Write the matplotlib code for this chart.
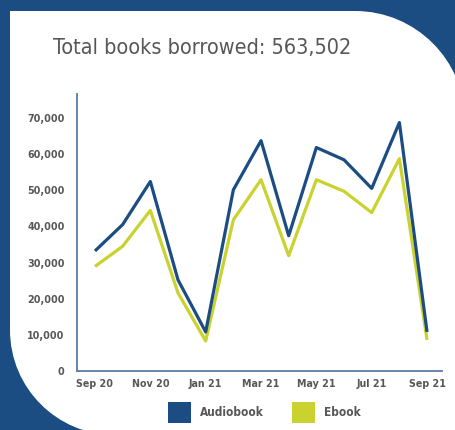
import matplotlib
matplotlib.use("Agg")
import matplotlib.pyplot as plt
from matplotlib.path import Path
from matplotlib.patches import PathPatch, Rectangle
from matplotlib.ticker import FuncFormatter

months = ["Sep 20", "Oct 20", "Nov 20", "Dec 20", "Jan 21", "Feb 21", "Mar 21",
          "Apr 21", "May 21", "Jun 21", "Jul 21", "Aug 21", "Sep 21"]
audiobook = [33200, 40500, 52400, 25200, 10800, 50100, 63700,
             37400, 61800, 58400, 50500, 68700, 10800]
ebook = [28900, 34500, 44400, 21600, 8300, 41800, 52900,
         31900, 52900, 49700, 43800, 58700, 8600]
total_label = "Total books borrowed: 563,502"

BLUE = "#1b4d82"
GREEN = "#c9d22e"
GREY = "#575757"
plt.rcParams["font.family"] = ["DejaVu Sans"]
plt.rcParams["font.stretch"] = "condensed"

W, H = 455, 430
fig = plt.figure(figsize=(W / 100, H / 100), dpi=100)
fig.patch.set_facecolor(BLUE)

# white panel with two big rounded corners (pixel coords, y down)
def fp(x, y):
    return (x / W, 1 - y / H)

k = 0.5523
r1 = 110
r2 = 105
verts = [fp(10, 11), fp(355, 11),
         fp(355 + k * r1, 11), fp(355 + r1, 121 - k * r1), fp(355 + r1, 121),
         fp(470, 450), fp(115, 450), fp(115, 435),
         fp(115 - k * r2, 435), fp(10, 330 + k * r2), fp(10, 330),
         fp(10, 11)]
codes = [Path.MOVETO, Path.LINETO,
         Path.CURVE4, Path.CURVE4, Path.CURVE4,
         Path.LINETO, Path.LINETO, Path.LINETO,
         Path.CURVE4, Path.CURVE4, Path.CURVE4,
         Path.CLOSEPOLY]
fig.patches.append(PathPatch(Path(verts, codes), transform=fig.transFigure,
                             facecolor="white", edgecolor="none", zorder=0))

fig.text(53 / W, 1 - 48 / H, total_label, fontsize=15.5, color=GREY,
         va="center", ha="left", zorder=5)

ax = fig.add_axes([77 / W, 1 - 371 / H, (442 - 77) / W, (371 - 94) / H])
ax.set_zorder(3)
ax.set_facecolor("none")
x = list(range(len(months)))
ax.plot(x, audiobook, color=BLUE, lw=2.3, solid_joinstyle="round",
        solid_capstyle="butt", label="Audiobook", zorder=3)
ax.plot(x, ebook, color=GREEN, lw=2.3, solid_joinstyle="round",
        solid_capstyle="butt", label="Ebook", zorder=2)

ax.set_xlim(-0.65, 12.54)
ax.set_ylim(0, 76600)
ax.set_yticks(range(0, 70001, 10000))
ax.yaxis.set_major_formatter(FuncFormatter(lambda v, p: f"{int(v):,}"))
ax.set_xticks(x[::2])
ax.set_xticklabels(months[::2])
ax.tick_params(length=0, labelsize=7.7, labelcolor=GREY)
ax.tick_params(axis="y", pad=9)
ax.tick_params(axis="x", pad=6)
for lab in ax.get_xticklabels() + ax.get_yticklabels():
    lab.set_fontweight("bold")
for s in ["top", "right"]:
    ax.spines[s].set_visible(False)
for s in ["left", "bottom"]:
    ax.spines[s].set_color("#5b7ca6")
    ax.spines[s].set_linewidth(1.3)

# legend drawn by hand as squares + labels
for x0, col, name in [(168, BLUE, "Audiobook"), (292, GREEN, "Ebook")]:
    fig.patches.append(Rectangle(fp(x0, 423), 23 / W, 21 / H,
                                 transform=fig.transFigure, facecolor=col,
                                 edgecolor="none", zorder=4))
    fig.text((x0 + 32) / W, 1 - 412 / H, name, fontsize=8.5, color=GREY,
             fontweight="bold", va="center", ha="left", zorder=5)

fig.savefig("out.png", dpi=100, facecolor=fig.get_facecolor())
